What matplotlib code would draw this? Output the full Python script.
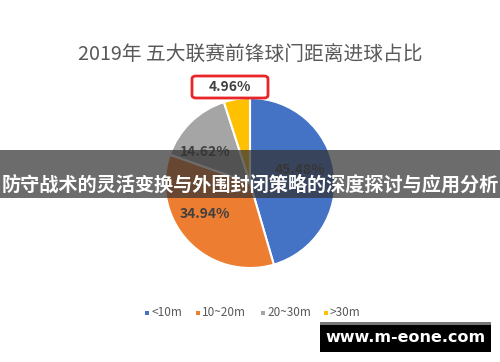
import matplotlib.pyplot as plt
from matplotlib.patches import FancyBboxPatch, Rectangle

plt.rcParams['font.family'] = ['Noto Sans CJK SC', 'DejaVu Sans']

labels = ['<10m', '10~20m', '20~30m', '>30m']
shares = [45.48, 34.94, 14.62, 4.96]
colors = ['#4472C4', '#ED7D31', '#A5A5A5', '#FFC000']
title = '2019年 五大联赛前锋球门距离进球占比'
banner = '防守战术的灵活变换与外围封闭策略的深度探讨与应用分析'

fig = plt.figure(figsize=(5, 3.62), dpi=100)
fig.patch.set_facecolor('white')

fig.text(0.5, 1 - 55 / 362, title, ha='center', va='center', fontsize=14.2, color='#595959')

# pie
ax = fig.add_axes([0.5 - 0.17, 1 - 183 / 362 - 85 / 362, 0.34, 170 / 362])
wedges, _ = ax.pie(shares, colors=colors, startangle=90, counterclock=False,
                   wedgeprops=dict(edgecolor='white', linewidth=1.5))
ax.set_xlim(-1, 1)
ax.set_ylim(-1, 1)
ax.set_aspect('equal')
ax.axis('off')

label_pos = [(0.59, 0.15), (-0.53, -0.37), (-0.53, 0.36), (-0.24, 1.13)]
for (x, y), s in zip(label_pos, shares):
    ax.text(x, y, f'{s:.2f}%', ha='center', va='center', fontsize=10,
            fontweight='bold', color='#404040', clip_on=False)

# red box around the small label
box = FancyBboxPatch((192 / 500, 1 - 98 / 362), 76 / 500, 22 / 362,
                     boxstyle='round,pad=0,rounding_size=0.008',
                     transform=fig.transFigure, facecolor='none',
                     edgecolor='#E8262A', linewidth=2)
fig.add_artist(box)

# legend
leg_x = [147, 198, 263, 326]
for lx, lab, c in zip(leg_x, labels, colors):
    fig.add_artist(Rectangle(((lx - 2) / 500, 1 - 315 / 362), 4 / 500, 4 / 362,
                             transform=fig.transFigure, facecolor=c, edgecolor='none'))
    fig.text((lx + 4) / 500, 1 - 313 / 362, lab, color='#595959', fontsize=8.5,
             ha='left', va='center')

# dark banner overlay
fig.add_artist(Rectangle((0, 1 - 198 / 362), 1, 48 / 362, transform=fig.transFigure,
                         facecolor='#333333', alpha=0.72, edgecolor='none'))
fig.text(0.5, 1 - 185 / 362, banner, ha='center', va='center', fontsize=13.8,
         fontweight='bold', color='white')

# watermark
fig.add_artist(Rectangle((320 / 500, 1 - 325 / 362), 171 / 500, 3 / 362,
                         transform=fig.transFigure, facecolor='#777777', edgecolor='none'))
fig.add_artist(Rectangle((320 / 500, 1 - 352 / 362), 171 / 500, 27 / 362,
                         transform=fig.transFigure, facecolor='black', edgecolor='none'))
fig.text(405 / 500, 1 - 338 / 362, 'www.m-eone.com', ha='center', va='center',
         fontsize=11.5, fontweight='bold', color='white', family='DejaVu Sans')

fig.savefig('out.png', dpi=100)
